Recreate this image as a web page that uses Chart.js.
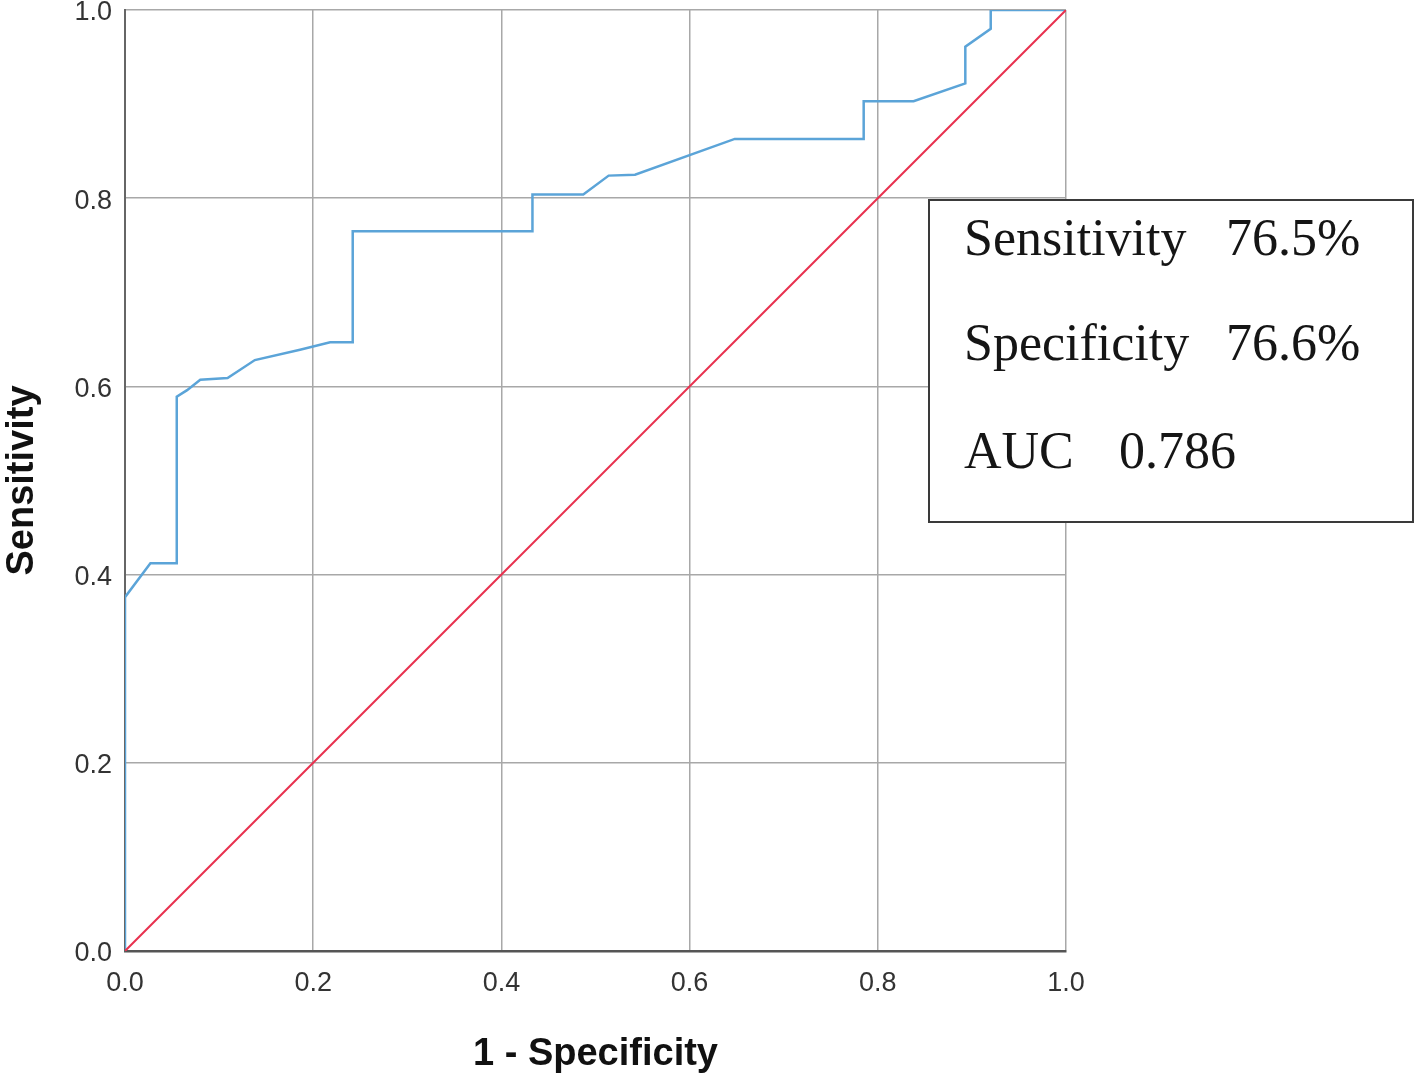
<!DOCTYPE html>
<html lang="en">
<head>
  <meta charset="UTF-8">
  <title>ROC curve</title>
  <script src="https://cdn.jsdelivr.net/npm/chart.js@4.4.1/dist/chart.umd.min.js"></script>
  <style>
    html, body { margin: 0; padding: 0; background: #fff; }
    #wrap { width: 1418px; height: 1079px; }
  </style>
</head>
<body>
<div id="wrap"><canvas id="rocChart"></canvas></div>

<script>
    // ROC curve (1 - specificity, sensitivity)
    const fpr = [0, 0, 0.027, 0.055, 0.055, 0.066, 0.08, 0.109, 0.138, 0.186, 0.218, 0.242, 0.242,
                 0.433, 0.433, 0.487, 0.514, 0.542, 0.648, 0.785, 0.785, 0.838, 0.893, 0.893, 0.92, 0.92, 1.0];
    const tpr = [0, 0.376, 0.412, 0.412, 0.589, 0.596, 0.607, 0.609, 0.628, 0.639, 0.647, 0.647, 0.765,
                 0.765, 0.804, 0.804, 0.824, 0.825, 0.863, 0.863, 0.903, 0.903, 0.922, 0.961, 0.98, 1.0, 1.0];
    // reference (chance) line
    const refX = [0, 1];
    const refY = [0, 1];
    const tickValues = [0, 0.2, 0.4, 0.6, 0.8, 1.0];
    const statLabels = ['Sensitivity', 'Specificity', 'AUC'];
    const statValues = ['76.5%', '76.6%', '0.786'];

    const toPoints = (xs, ys) => xs.map((x, i) => ({x: x, y: ys[i]}));

    const stats_box = {
        id: 'stats_box',
        afterDraw: (chart) => {
            const ctx = chart.ctx;
            const area = chart.chartArea;
            const left = area.right - 137;
            const top = area.top + 190;
            const w = 484, h = 322;
            ctx.save();
            ctx.fillStyle = '#ffffff';
            ctx.fillRect(left, top, w, h);
            ctx.strokeStyle = '#3a3a3a';
            ctx.lineWidth = 2;
            ctx.strokeRect(left, top, w, h);
            ctx.fillStyle = '#151515';
            ctx.font = '52px "Liberation Serif", "Times New Roman", serif';
            ctx.textBaseline = 'alphabetic';
            const baselines = [55, 160, 268];
            const valueX = [297, 297, 190];
            statLabels.forEach((lab, i) => {
                ctx.fillText(lab, left + 35, top + baselines[i]);
                ctx.fillText(statValues[i], left + valueX[i], top + baselines[i]);
            });
            ctx.restore();
        }
    };

    Chart.defaults.font.family = '"Liberation Sans", Arial, sans-serif';
    const ctx = document.getElementById('rocChart');
    const rocChart = new Chart(ctx, {
        type: 'scatter',
        data: {
            datasets: [{
                label: 'Reference',
                data: toPoints(refX, refY),
                showLine: true,
                borderColor: '#e8314f',
                borderWidth: 2,
                pointRadius: 0,
                fill: false
            }, {
                label: 'ROC',
                data: toPoints(fpr, tpr),
                showLine: true,
                borderColor: '#5ba4d8',
                borderWidth: 2.5,
                pointRadius: 0,
                tension: 0,
                fill: false
            }]
        },
        options: {
            responsive: true,
            maintainAspectRatio: false,
            animation: false,
            layout: { padding: { top: 10, right: 352, left: 0, bottom: 0 } },
            scales: {
                x: {
                    type: 'linear',
                    min: 0, max: 1,
                    afterBuildTicks: (scale) => { scale.ticks = tickValues.map(v => ({value: v})); },
                    afterFit: (scale) => { scale.height = 128; scale.paddingRight = 0; },
                    ticks: {
                        padding: 16,
                        color: '#333',
                        font: { size: 27 },
                        callback: (v) => Number(v).toFixed(1)
                    },
                    grid: { color: '#a8a8a8', lineWidth: 1.5, drawTicks: false },
                    border: { color: '#555', width: 2.5 },
                    title: {
                        display: true,
                        text: '1 - Specificity',
                        color: '#111',
                        padding: { top: 0, bottom: 2 },
                        font: { size: 38, weight: 'bold' }
                    }
                },
                y: {
                    type: 'linear',
                    min: 0, max: 1,
                    afterBuildTicks: (scale) => { scale.ticks = tickValues.map(v => ({value: v})); },
                    afterFit: (scale) => { scale.width = 125; scale.paddingTop = 0; scale.paddingBottom = 0; },
                    ticks: {
                        padding: 13,
                        labelOffset: 3,
                        color: '#333',
                        font: { size: 27 },
                        callback: (v) => Number(v).toFixed(1)
                    },
                    grid: { color: '#a8a8a8', lineWidth: 1.5, drawTicks: false },
                    border: { color: '#666', width: 2 },
                    title: {
                        display: true,
                        text: 'Sensitivity',
                        color: '#111',
                        padding: { top: 0, bottom: 0 },
                        font: { size: 38, weight: 'bold' }
                    }
                }
            },
            plugins: {
                legend: { display: false },
                tooltip: { enabled: false }
            }
        },
        plugins: [stats_box]
    });
</script>
</body>
</html>
